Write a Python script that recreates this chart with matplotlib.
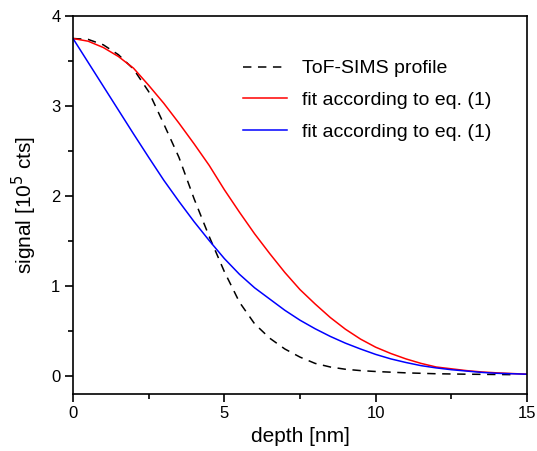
import matplotlib
matplotlib.use('Agg')
import matplotlib.pyplot as plt
from matplotlib.ticker import MultipleLocator

plt.rcParams['font.family'] = ['Liberation Sans', 'DejaVu Sans']

# ToF-SIMS profile (dashed black)
depth_sims = [0, 0.5, 1.0, 1.5, 2.0, 2.5, 3.0, 3.5, 4.0, 4.5, 5.0, 5.5, 6.0, 6.5,
              7.0, 7.5, 8.0, 8.5, 9.0, 9.5, 10, 11, 12, 13, 14.5]
signal_sims = [3.75, 3.74, 3.68, 3.57, 3.41, 3.16, 2.80, 2.43, 1.97, 1.55, 1.16, 0.82,
               0.58, 0.42, 0.30, 0.21, 0.14, 0.10, 0.075, 0.06, 0.05, 0.035, 0.025,
               0.02, 0.015]

# fit 1 (red)
depth_fit1 = [0, 0.5, 1.0, 1.5, 2.0, 2.5, 3.0, 3.5, 4.0, 4.5, 5.0, 5.5, 6.0, 6.5,
              7.0, 7.5, 8.0, 8.5, 9.0, 9.5, 10.0, 10.5, 11.0, 11.5, 12.0, 12.5,
              13.0, 13.5, 14.0, 15.0]
signal_fit1 = [3.75, 3.72, 3.65, 3.55, 3.42, 3.23, 3.03, 2.81, 2.58, 2.34, 2.07, 1.82,
               1.58, 1.36, 1.15, 0.96, 0.80, 0.65, 0.52, 0.41, 0.32, 0.25, 0.19, 0.14,
               0.10, 0.08, 0.06, 0.045, 0.035, 0.02]

# fit 2 (blue)
depth_fit2 = [0, 0.5, 1.0, 1.5, 2.0, 2.5, 3.0, 3.5, 4.0, 4.5, 5.0, 5.5, 6.0, 6.5,
              7.0, 7.5, 8.0, 8.5, 9.0, 9.5, 10.0, 10.5, 11.0, 11.5, 12.0, 12.5,
              13.0, 13.5, 14.0, 15.0]
signal_fit2 = [3.75, 3.485, 3.22, 2.955, 2.69, 2.43, 2.175, 1.94, 1.715, 1.505, 1.305,
               1.13, 0.98, 0.855, 0.73, 0.62, 0.525, 0.44, 0.365, 0.30, 0.24, 0.19,
               0.15, 0.115, 0.09, 0.07, 0.055, 0.04, 0.03, 0.02]

labels = ['ToF-SIMS profile', 'fit according to eq. (1)', 'fit according to eq. (1)']

fig = plt.figure(figsize=(5.37, 4.51), dpi=100)
ax = fig.add_axes([73/537, 1 - 394/451, 454/537, 378/451])

ax.plot(depth_sims, signal_sims, color='black', lw=1.1, linestyle=(0, (5.5, 4.3)), label=labels[0])
ax.plot(depth_fit1, signal_fit1, color='#ff0000', lw=1.1, label=labels[1])
ax.plot(depth_fit2, signal_fit2, color='#0000ff', lw=1.1, label=labels[2])

ax.set_xlim(0, 15)
ax.set_ylim(-0.2, 4)
ax.xaxis.set_major_locator(MultipleLocator(5))
ax.xaxis.set_minor_locator(MultipleLocator(2.5))
ax.yaxis.set_major_locator(MultipleLocator(1))
ax.yaxis.set_minor_locator(MultipleLocator(0.5))
ax.tick_params(which='both', direction='out', width=1.2, labelsize=12, top=False, right=False)
ax.tick_params(which='major', length=6, pad=3)
ax.tick_params(which='minor', length=3.5)
for sp in ax.spines.values():
    sp.set_linewidth(1.2)

ax.set_xlabel('depth [nm]', fontsize=15, labelpad=4)
ax.set_ylabel('signal [10$^5$ cts]', fontsize=15, labelpad=9)

ax.legend(loc='upper left', bbox_to_anchor=(0.374, 0.884), frameon=False, fontsize=14,
          handlelength=2.27, handletextpad=0.77, labelspacing=0.73,
          borderpad=0, borderaxespad=0)

fig.savefig('out.png', dpi=100)
